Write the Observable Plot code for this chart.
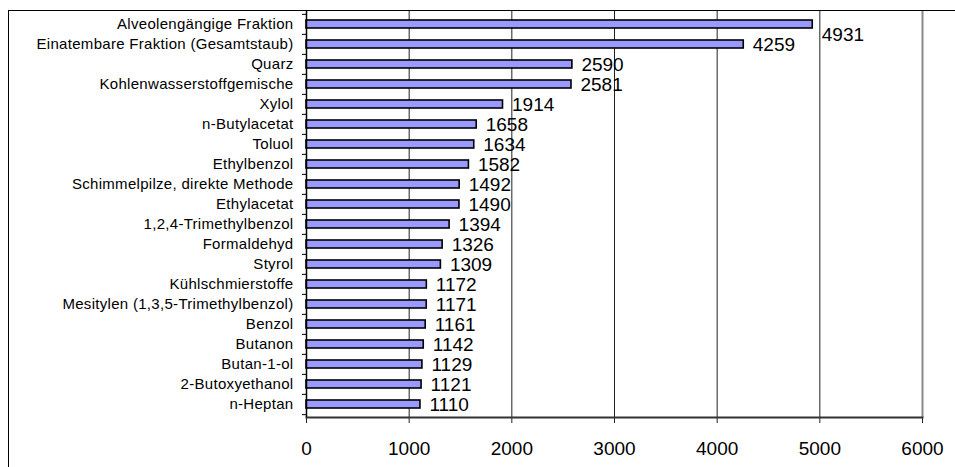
<!DOCTYPE html>
<html>
<head>
<meta charset="utf-8">
<script src="https://cdn.jsdelivr.net/npm/d3@7"></script>
<script src="https://cdn.jsdelivr.net/npm/@observablehq/plot@0.6"></script>
<style>
  html, body { margin: 0; padding: 0; background: #fff; overflow: hidden; }
  #wrap { position: relative; width: 955px; height: 467px; }
  #wrap svg { display: block; }
  #wrap svg g[aria-label="y-axis tick label"] text { letter-spacing: 0.3px; }
  #border {
    position: absolute; left: 8px; top: 10px; width: 1200px; height: 800px;
    border-left: 1px solid #000; border-top: 1px solid #000; pointer-events: none;
  }
</style>
</head>
<body>
<div id="wrap"><div id="border"></div></div>
<script>
// Substances, ordered from highest to lowest count
const substances = [
  "Alveolengängige Fraktion",
  "Einatembare Fraktion (Gesamtstaub)",
  "Quarz",
  "Kohlenwasserstoffgemische",
  "Xylol",
  "n-Butylacetat",
  "Toluol",
  "Ethylbenzol",
  "Schimmelpilze, direkte Methode",
  "Ethylacetat",
  "1,2,4-Trimethylbenzol",
  "Formaldehyd",
  "Styrol",
  "Kühlschmierstoffe",
  "Mesitylen (1,3,5-Trimethylbenzol)",
  "Benzol",
  "Butanon",
  "Butan-1-ol",
  "2-Butoxyethanol",
  "n-Heptan"
];
const counts = [4931, 4259, 2590, 2581, 1914, 1658, 1634, 1582, 1492, 1490,
                1394, 1326, 1309, 1172, 1171, 1161, 1142, 1129, 1121, 1110];
const xTicks = [0, 1000, 2000, 3000, 4000, 5000, 6000];

const data = substances.map((name, i) => ({name, value: counts[i]}));

const height = 467, marginTop = 11, marginBottom = 50;
const step = (height - marginTop - marginBottom) / substances.length;

const chart = Plot.plot({
  width: 955,
  height,
  marginLeft: 306,
  marginRight: 33,
  marginTop,
  marginBottom,
  style: {fontFamily: "'Liberation Sans', Arial, sans-serif", background: "transparent", overflow: "visible"},
  x: {domain: [0, 6000], label: null},
  y: {domain: substances, paddingInner: 0.6, paddingOuter: 0.3, label: null},
  marks: [
    // vertical gridlines
    Plot.gridX(xTicks.slice(1, -1), {stroke: "#222", strokeOpacity: 1, strokeWidth: 1}),
    Plot.ruleX([xTicks[xTicks.length - 1]], {stroke: "#8a8a8a", strokeWidth: 2}),
    // bars
    Plot.barX(data, {y: "name", x: "value", fill: "#9999ff", stroke: "#000", strokeWidth: 1.6}),
    // value labels
    Plot.text(data.slice(1), {y: "name", x: "value", text: d => String(d.value),
      textAnchor: "start", dx: 9, fontSize: 19, fill: "#000"}),
    Plot.text(data.slice(0, 1), {y: "name", x: "value", text: d => String(d.value),
      textAnchor: "start", dx: 9, dy: 10, fontSize: 19, fill: "#000"}),
    // category axis: labels, and ticks between categories
    Plot.axisY({tickSize: 0, tickPadding: 13, fontSize: 15, fill: "#000", label: null}),
    Plot.axisY({tickSize: 4, tickFormat: () => "", dy: -step / 2, stroke: "#000", label: null}),
    Plot.axisY(substances.slice(-1), {tickSize: 4, tickFormat: () => "", dy: step / 2, stroke: "#000", label: null}),
    // value axis
    Plot.axisX(xTicks, {tickSize: 6, tickPadding: 18, fontSize: 19, fill: "#000", label: null,
      stroke: "#222", tickFormat: d => String(d)}),
    Plot.frame({anchor: "bottom", stroke: "#333", strokeWidth: 2}),
    Plot.ruleX([0], {stroke: "#000", strokeWidth: 1.5})
  ]
});

document.getElementById("wrap").prepend(chart);
</script>
</body>
</html>
